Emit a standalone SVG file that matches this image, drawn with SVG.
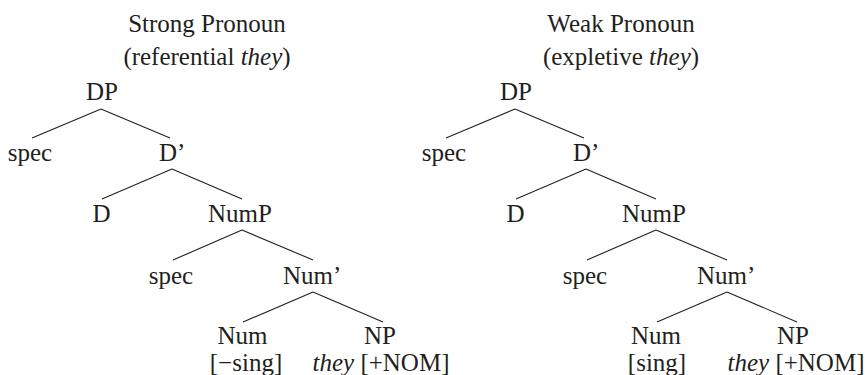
<svg xmlns="http://www.w3.org/2000/svg" width="868" height="375" viewBox="0 0 868 375">
<style>
text{font-family:"Liberation Serif","Times New Roman",serif;font-size:25px;fill:#231f20}
.m{text-anchor:middle}
.i{font-style:italic}
#connectors line{stroke:#231f20;stroke-width:1.1}
</style>
<rect width="868" height="375" fill="#fff"/>
<g id="title-left">
<text class="m" x="207" y="32">Strong Pronoun</text>
<text class="m" x="207" y="65">(referential <tspan class="i">they</tspan>)</text>
</g>
<g id="title-right">
<text class="m" x="621" y="32">Weak Pronoun</text>
<text class="m" x="621" y="65">(expletive <tspan class="i">they</tspan>)</text>
</g>
<g id="connectors">
<line x1="101" y1="109" x2="32" y2="138"/>
<line x1="101" y1="109" x2="170" y2="138"/>
<line x1="172" y1="169" x2="102" y2="199"/>
<line x1="172" y1="169" x2="242" y2="199"/>
<line x1="242" y1="230" x2="173" y2="260"/>
<line x1="242" y1="230" x2="313" y2="260"/>
<line x1="313" y1="292" x2="243" y2="322"/>
<line x1="313" y1="292" x2="383" y2="322"/>
<line x1="515" y1="109" x2="446" y2="138"/>
<line x1="515" y1="109" x2="584" y2="138"/>
<line x1="586" y1="169" x2="516" y2="199"/>
<line x1="586" y1="169" x2="656" y2="199"/>
<line x1="656" y1="230" x2="587" y2="260"/>
<line x1="656" y1="230" x2="727" y2="260"/>
<line x1="727" y1="292" x2="657" y2="322"/>
<line x1="727" y1="292" x2="797" y2="322"/>
</g>
<g id="L-DP"><text class="m" x="102" y="100">DP</text></g>
<g id="L-spec1"><text class="m" x="30" y="161">spec</text></g>
<g id="L-Dbar"><text x="159" y="161">D’</text></g>
<g id="L-D"><text class="m" x="101.5" y="222">D</text></g>
<g id="L-NumP"><text class="m" x="240" y="222">NumP</text></g>
<g id="L-spec2"><text class="m" x="171" y="284">spec</text></g>
<g id="L-Numbar"><text x="283" y="284">Num’</text></g>
<g id="L-Num"><text class="m" x="242.5" y="344">Num</text><text class="m" x="246" y="370.5">[−sing]</text></g>
<g id="L-NP"><text class="m" x="380" y="344">NP</text><text class="m" x="381" y="370.5"><tspan class="i">they</tspan> [+NOM]</text></g>
<g id="R-DP"><text class="m" x="516" y="100">DP</text></g>
<g id="R-spec1"><text class="m" x="444" y="161">spec</text></g>
<g id="R-Dbar"><text x="573" y="161">D’</text></g>
<g id="R-D"><text class="m" x="515.5" y="222">D</text></g>
<g id="R-NumP"><text class="m" x="654" y="222">NumP</text></g>
<g id="R-spec2"><text class="m" x="585" y="284">spec</text></g>
<g id="R-Numbar"><text x="697" y="284">Num’</text></g>
<g id="R-Num"><text class="m" x="656" y="344">Num</text><text class="m" x="657" y="370.5">[sing]</text></g>
<g id="R-NP"><text class="m" x="793" y="344">NP</text><text class="m" x="796" y="370.5"><tspan class="i">they</tspan> [+NOM]</text></g>
</svg>
